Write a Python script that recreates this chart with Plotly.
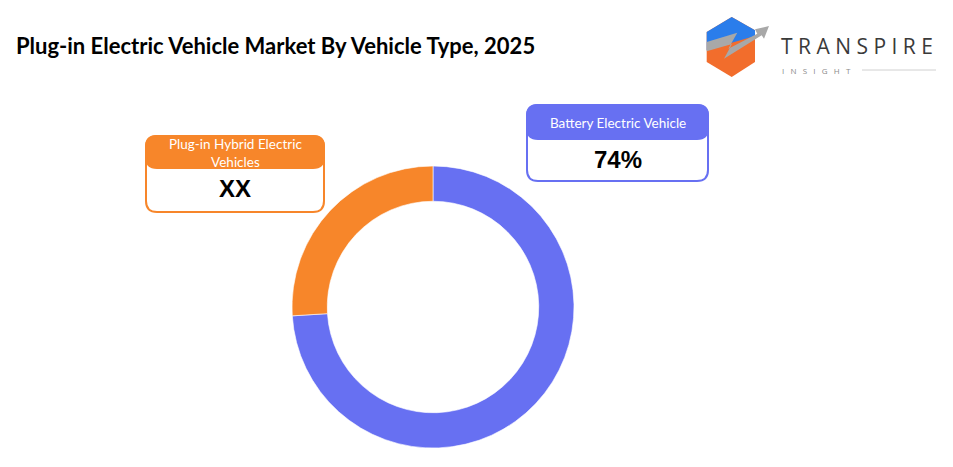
import plotly.graph_objects as go

W, H = 953, 467

categories = ["Battery Electric Vehicle", "Plug-in Hybrid Electric Vehicles"]
shares = [74, 26]
box_values = ["74%", "XX"]
colors = ["#6770F2", "#F7862A"]
title_text = "Plug-in Electric Vehicle Market By Vehicle Type, 2025"


def px(x):
    return x / W


def py(y):
    return 1 - y / H


def rrect(x0, y0, x1, y1, r):
    pts = [
        f"M {px(x0 + r)} {py(y0)}",
        f"L {px(x1 - r)} {py(y0)}",
        f"Q {px(x1)} {py(y0)} {px(x1)} {py(y0 + r)}",
        f"L {px(x1)} {py(y1 - r)}",
        f"Q {px(x1)} {py(y1)} {px(x1 - r)} {py(y1)}",
        f"L {px(x0 + r)} {py(y1)}",
        f"Q {px(x0)} {py(y1)} {px(x0)} {py(y1 - r)}",
        f"L {px(x0)} {py(y0 + r)}",
        f"Q {px(x0)} {py(y0)} {px(x0 + r)} {py(y0)}",
        "Z",
    ]
    return " ".join(pts)


def poly(points):
    return "M " + " L ".join(f"{px(x)} {py(y)}" for x, y in points) + " Z"


fig = go.Figure()

cx, cy, R = 433, 307, 141
fig.add_trace(go.Pie(
    labels=categories,
    values=shares,
    hole=0.75,
    sort=False,
    direction="clockwise",
    rotation=0,
    marker=dict(colors=colors, line=dict(color="white", width=0.6)),
    textinfo="none",
    hoverinfo="label+percent",
    showlegend=False,
    domain=dict(x=[px(cx - R), px(cx + R)], y=[py(cy + R), py(cy - R)]),
))

shapes = []
annotations = []

# Label boxes: (x0, y0, x1, y1, header_bottom, color, header text, header y, value y)
boxes = [
    (527, 105, 708, 181, 139, colors[0], categories[0], 123, 159),
    (146, 136, 324, 212, 168, colors[1], "Plug-in Hybrid Electric<br>Vehicles", 153, 189),
]
for i, (x0, y0, x1, y1, hb, col, htxt, hy, vy) in enumerate(boxes):
    shapes.append(dict(type="path", path=rrect(x0, y0, x1, y1, 11), xref="paper", yref="paper",
                       fillcolor="white", line=dict(color=col, width=2)))
    shapes.append(dict(type="path", path=rrect(x0, y0, x1, hb, 11), xref="paper", yref="paper",
                       fillcolor=col, line=dict(color=col, width=2)))
    annotations.append(dict(text=htxt, x=px((x0 + x1) / 2), y=py(hy), xref="paper", yref="paper",
                            showarrow=False, xanchor="center", yanchor="middle",
                            font=dict(family="Lato", size=13.5, color="white")))
    annotations.append(dict(text=f"<b>{box_values[i]}</b>", x=px((x0 + x1) / 2), y=py(vy),
                            xref="paper", yref="paper", showarrow=False,
                            xanchor="center", yanchor="middle",
                            font=dict(family="Liberation Sans, Arial, sans-serif", size=24, color="black")))

# Title
annotations.append(dict(text=f"<b>{title_text}</b>", x=px(14), y=py(45), xref="paper", yref="paper",
                        showarrow=False, xanchor="left", yanchor="middle",
                        font=dict(family="Lato", size=22, color="black")))

# Logo icon
shapes.append(dict(type="path", xref="paper", yref="paper", line=dict(width=0), fillcolor="#F26D2C",
                   path=poly([(731.7, 17), (755, 30.3), (755, 62), (731.7, 77), (706.7, 62), (706.7, 32)])))
shapes.append(dict(type="path", xref="paper", yref="paper", line=dict(width=0), fillcolor="#2A7DEB",
                   path=poly([(731.7, 17), (755, 30.3), (755, 36), (706.7, 50), (706.7, 32)])))
shapes.append(dict(type="path", xref="paper", yref="paper", line=dict(width=0), fillcolor="#A8A8A8",
                   path=poly([(706.7, 42), (737.3, 32.7), (728.3, 48.7), (757.3, 33.7), (755, 29.3),
                              (769, 26), (764, 38.7), (761.7, 35.3), (724, 58.7), (732, 44),
                              (706.7, 51.3)])))

annotations.append(dict(text="T R A N S P I R E", x=px(779), y=py(46), xref="paper", yref="paper",
                        showarrow=False, xanchor="left", yanchor="middle",
                        font=dict(family="Open Sans", size=21, color="#3A3A3A")))
annotations.append(dict(text="I   N   S   I   G   H   T", x=px(780), y=py(70), xref="paper", yref="paper",
                        showarrow=False, xanchor="left", yanchor="middle",
                        font=dict(family="Open Sans", size=8, color="#8A8A8A")))
shapes.append(dict(type="line", xref="paper", yref="paper", x0=px(862), x1=px(936), y0=py(70), y1=py(70),
                   line=dict(color="#D0D0D0", width=1)))

fig.update_layout(
    width=W, height=H,
    margin=dict(l=0, r=0, t=0, b=0),
    paper_bgcolor="white", plot_bgcolor="white",
    shapes=shapes, annotations=annotations,
)

fig.write_html("out.html", config={"displayModeBar": False},
               post_script="document.body.style.margin='0';document.body.style.overflow='hidden';")
